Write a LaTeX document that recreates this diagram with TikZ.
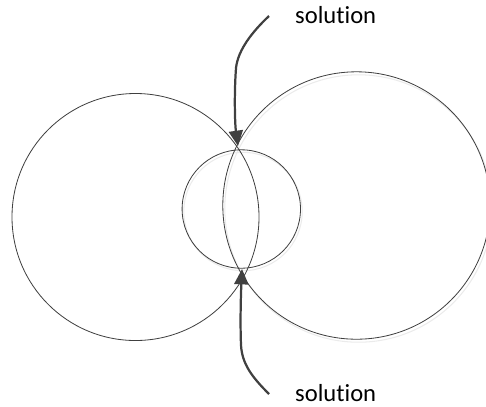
\documentclass[tikz,border=0pt]{standalone}
\usepackage{fontspec}
\setmainfont{Carlito}[Ligatures=NoCommon]
\usepackage{xcolor}
\usetikzlibrary{arrows.meta}
\definecolor{inkgray}{HTML}{404040}
\definecolor{shadowgray}{HTML}{EBEBEB}

\begin{document}
\begin{tikzpicture}[x=0.03cm, y=-0.03cm, font=\fontsize{21}{25}\selectfont,
  ring/.style={draw=inkgray, line width=0.7pt},
  ringshadow/.style={draw=shadowgray, line width=0.9pt},
  pointer/.style={draw=inkgray, line width=1.9pt,
    -{Triangle[length=4.6mm, width=4.2mm]}}]
\useasboundingbox (0,0) rectangle (486,406);
\clip (0,0) rectangle (486,406);
% faint shadows
\draw[ringshadow] (358.5,208.5) circle (133.7);
\draw[ringshadow] (243,211.5) circle (59.2);
% the three circles
\draw[ring] (135.5,217) circle (123.5);
\draw[ring] (356.5,205.5) circle (133.7);
\draw[ring] (241.3,209) circle (59.2);
% where they meet
\coordinate (topcut) at (238,146);
\coordinate (botcut) at (242,269);
% labels and pointers
\node[anchor=base west, inner sep=0pt] (soltop) at (295,23) {solution};
\node[anchor=base west, inner sep=0pt] (solbot) at (295,401) {solution};
\coordinate (toptail) at (269,16);
\coordinate (bottail) at (269,394);
\draw[pointer] (toptail) .. controls (252,32) and (238,50) .. (236,68)
  .. controls (234,95) and (235,125) .. (topcut);
\draw[pointer] (bottail) .. controls (252,377) and (242,364) .. (241,345)
  .. controls (240,320) and (241,292) .. (botcut);
\end{tikzpicture}
\end{document}
